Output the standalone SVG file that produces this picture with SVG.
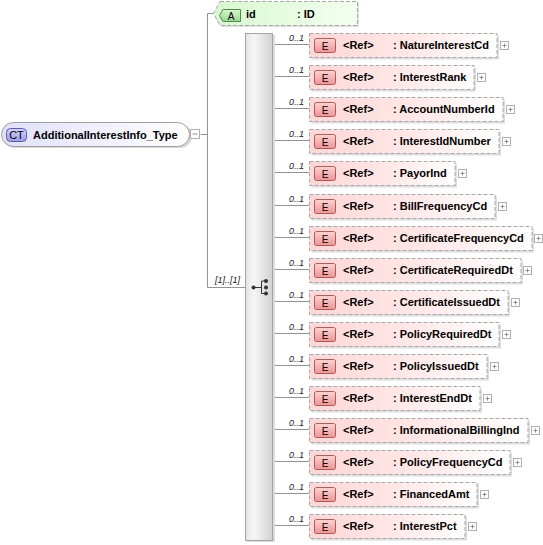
<svg xmlns="http://www.w3.org/2000/svg" width="543" height="545" viewBox="0 0 543 545">
<defs>
<linearGradient id="gEl" x1="0" y1="0" x2="1" y2="0"><stop offset="0" stop-color="#ffd6d6"/><stop offset="0.55" stop-color="#ffe8e8"/><stop offset="1" stop-color="#ffffff"/></linearGradient>
<linearGradient id="gEb" x1="0" y1="0" x2="0" y2="1"><stop offset="0" stop-color="#ffd2d2"/><stop offset="1" stop-color="#ee9494"/></linearGradient>
<linearGradient id="gAt" x1="0" y1="0" x2="1" y2="0"><stop offset="0" stop-color="#d8f8d0"/><stop offset="1" stop-color="#f4fff0"/></linearGradient>
<linearGradient id="gAb" x1="0" y1="0" x2="0" y2="1"><stop offset="0" stop-color="#d8f6d0"/><stop offset="1" stop-color="#98d890"/></linearGradient>
<linearGradient id="gCt" x1="0" y1="0" x2="1" y2="0"><stop offset="0" stop-color="#e0e0fa"/><stop offset="1" stop-color="#ffffff"/></linearGradient>
<linearGradient id="gCb" x1="0" y1="0" x2="0" y2="1"><stop offset="0" stop-color="#d4d4fa"/><stop offset="1" stop-color="#9c9cea"/></linearGradient>
<linearGradient id="gSeq" x1="0" y1="0" x2="1" y2="0"><stop offset="0" stop-color="#e4e4e4"/><stop offset="0.3" stop-color="#f6f6f6"/><stop offset="1" stop-color="#d2d2d2"/></linearGradient>
</defs>
<style>
.cn{stroke:#939393;stroke-width:1;fill:none}
.shd{fill:#dedede}
.ebox{fill:url(#gEl);stroke:#a8a8a8;stroke-dasharray:4 2}
.ebadge{fill:url(#gEb);stroke:#a85c5c}
.pb{fill:#ffffff;stroke:#b0b0b0}
.pl{stroke:#909090;fill:none}
text{font-family:"Liberation Sans",Arial,sans-serif;fill:#000}
.b{font-weight:bold;font-size:11px}
.occ{font-style:italic;font-size:9px;fill:#222}
.et{font-size:10px;text-anchor:middle}
</style>

<g id="connectors">
<path class="cn" d="M200.5 134.5 H207.5 M207.5 13.5 V287.5 M207.5 13.5 H213.5 M207.5 287.5 H245.5"/>
<path class="cn" d="M273 44.5 H309.5 M273 76.5 H309.5 M273 108.5 H309.5 M273 140.5 H309.5 M273 172.5 H309.5 M273 205.5 H309.5 M273 237.5 H309.5 M273 269.5 H309.5 M273 301.5 H309.5 M273 333.5 H309.5 M273 365.5 H309.5 M273 397.5 H309.5 M273 429.5 H309.5 M273 461.5 H309.5 M273 493.5 H309.5 M273 525.5 H309.5"/>
<text class="occ" x="215" y="283">[1]..[1]</text>
</g>

<g id="ct">
<rect x="3" y="124" width="189" height="24" rx="12" fill="#d8d8d8"/>
<rect x="1.5" y="122.5" width="188" height="24" rx="12" fill="url(#gCt)" stroke="#a0a0a0"/>
<rect x="6.5" y="128.5" width="20" height="13" rx="4" fill="url(#gCb)" stroke="#5c5ca8"/>
<text x="16.5" y="139" style="font-size:11px;text-anchor:middle">CT</text>
<text class="b" x="33" y="139">AdditionalInterestInfo_Type</text>
<rect x="190.5" y="129.5" width="9" height="9" fill="#fff" stroke="#b0b0b0"/>
<path class="pl" d="M192.5 134 h5"/>
</g>

<g id="attr-id">
<path d="M222 3 H359 V27 H222 L215 15 Z" fill="#e0e0e0"/>
<path d="M220 1.5 H357.5 V25.5 H220 L213.5 13.5 Z" fill="url(#gAt)" stroke="#a8a8a8" stroke-dasharray="4 2"/>
<path d="M223 9.5 H240.5 V21.5 H223 L219.5 15.5 Z" fill="url(#gAb)" stroke="#4f8a4f"/>
<text x="231" y="19.5" style="font-size:10px;text-anchor:middle">A</text>
<text class="b" x="246" y="18">id</text>
<text class="b" x="297" y="18">: ID</text>
</g>

<g id="sequence">
<rect x="247" y="35" width="28" height="507" fill="#dcdcdc"/>
<rect x="245.5" y="33.5" width="27" height="507" fill="url(#gSeq)" stroke="#a4a4a4"/>
<path d="M253 287.5 H261.5 M261.5 281 V293.5 M261.5 281 H266 M261.5 293.5 H266" stroke="#333" fill="none"/>
<circle cx="253.5" cy="287.5" r="2" fill="#333"/>
<circle cx="266" cy="281" r="2" fill="#333"/>
<circle cx="266" cy="287.5" r="2" fill="#333"/>
<circle cx="266" cy="293.5" r="2" fill="#333"/>
</g>

<g id="e-NatureInterestCd" transform="translate(0,44)">
<text class="occ" x="289" y="-3">0..1</text>
<rect class="shd" x="311.5" y="-8.5" width="187.5" height="24"/>
<rect class="ebox" x="309.5" y="-10.5" width="187.5" height="24"/>
<rect class="ebadge" x="314.5" y="-5.5" width="21" height="14" rx="2"/>
<text class="et" x="325" y="5.5">E</text>
<text class="b" x="343" y="5">&lt;Ref&gt;</text>
<text class="b" x="393" y="5">: NatureInterestCd</text>
<rect class="pb" x="500.5" y="-2.5" width="8" height="8"/>
<path class="pl" d="M502.5 1.5 h4 M504.5 -0.5 v4"/>
</g>
<g id="e-InterestRank" transform="translate(0,76)">
<text class="occ" x="289" y="-3">0..1</text>
<rect class="shd" x="311.5" y="-8.5" width="164.5" height="24"/>
<rect class="ebox" x="309.5" y="-10.5" width="164.5" height="24"/>
<rect class="ebadge" x="314.5" y="-5.5" width="21" height="14" rx="2"/>
<text class="et" x="325" y="5.5">E</text>
<text class="b" x="343" y="5">&lt;Ref&gt;</text>
<text class="b" x="393" y="5">: InterestRank</text>
<rect class="pb" x="477.5" y="-2.5" width="8" height="8"/>
<path class="pl" d="M479.5 1.5 h4 M481.5 -0.5 v4"/>
</g>
<g id="e-AccountNumberId" transform="translate(0,108)">
<text class="occ" x="289" y="-3">0..1</text>
<rect class="shd" x="311.5" y="-8.5" width="193.5" height="24"/>
<rect class="ebox" x="309.5" y="-10.5" width="193.5" height="24"/>
<rect class="ebadge" x="314.5" y="-5.5" width="21" height="14" rx="2"/>
<text class="et" x="325" y="5.5">E</text>
<text class="b" x="343" y="5">&lt;Ref&gt;</text>
<text class="b" x="393" y="5">: AccountNumberId</text>
<rect class="pb" x="506.5" y="-2.5" width="8" height="8"/>
<path class="pl" d="M508.5 1.5 h4 M510.5 -0.5 v4"/>
</g>
<g id="e-InterestIdNumber" transform="translate(0,140)">
<text class="occ" x="289" y="-3">0..1</text>
<rect class="shd" x="311.5" y="-8.5" width="189.5" height="24"/>
<rect class="ebox" x="309.5" y="-10.5" width="189.5" height="24"/>
<rect class="ebadge" x="314.5" y="-5.5" width="21" height="14" rx="2"/>
<text class="et" x="325" y="5.5">E</text>
<text class="b" x="343" y="5">&lt;Ref&gt;</text>
<text class="b" x="393" y="5">: InterestIdNumber</text>
<rect class="pb" x="502.5" y="-2.5" width="8" height="8"/>
<path class="pl" d="M504.5 1.5 h4 M506.5 -0.5 v4"/>
</g>
<g id="e-PayorInd" transform="translate(0,172)">
<text class="occ" x="289" y="-3">0..1</text>
<rect class="shd" x="311.5" y="-8.5" width="145.5" height="24"/>
<rect class="ebox" x="309.5" y="-10.5" width="145.5" height="24"/>
<rect class="ebadge" x="314.5" y="-5.5" width="21" height="14" rx="2"/>
<text class="et" x="325" y="5.5">E</text>
<text class="b" x="343" y="5">&lt;Ref&gt;</text>
<text class="b" x="393" y="5">: PayorInd</text>
<rect class="pb" x="458.5" y="-2.5" width="8" height="8"/>
<path class="pl" d="M460.5 1.5 h4 M462.5 -0.5 v4"/>
</g>
<g id="e-BillFrequencyCd" transform="translate(0,205)">
<text class="occ" x="289" y="-3">0..1</text>
<rect class="shd" x="311.5" y="-8.5" width="185.5" height="24"/>
<rect class="ebox" x="309.5" y="-10.5" width="185.5" height="24"/>
<rect class="ebadge" x="314.5" y="-5.5" width="21" height="14" rx="2"/>
<text class="et" x="325" y="5.5">E</text>
<text class="b" x="343" y="5">&lt;Ref&gt;</text>
<text class="b" x="393" y="5">: BillFrequencyCd</text>
<rect class="pb" x="498.5" y="-2.5" width="8" height="8"/>
<path class="pl" d="M500.5 1.5 h4 M502.5 -0.5 v4"/>
</g>
<g id="e-CertificateFrequencyCd" transform="translate(0,237)">
<text class="occ" x="289" y="-3">0..1</text>
<rect class="shd" x="311.5" y="-8.5" width="222.5" height="24"/>
<rect class="ebox" x="309.5" y="-10.5" width="222.5" height="24"/>
<rect class="ebadge" x="314.5" y="-5.5" width="21" height="14" rx="2"/>
<text class="et" x="325" y="5.5">E</text>
<text class="b" x="343" y="5">&lt;Ref&gt;</text>
<text class="b" x="393" y="5">: CertificateFrequencyCd</text>
<rect class="pb" x="534.5" y="-2.5" width="8" height="8"/>
<path class="pl" d="M536.5 1.5 h4 M538.5 -0.5 v4"/>
</g>
<g id="e-CertificateRequiredDt" transform="translate(0,269)">
<text class="occ" x="289" y="-3">0..1</text>
<rect class="shd" x="311.5" y="-8.5" width="211.5" height="24"/>
<rect class="ebox" x="309.5" y="-10.5" width="211.5" height="24"/>
<rect class="ebadge" x="314.5" y="-5.5" width="21" height="14" rx="2"/>
<text class="et" x="325" y="5.5">E</text>
<text class="b" x="343" y="5">&lt;Ref&gt;</text>
<text class="b" x="393" y="5">: CertificateRequiredDt</text>
<rect class="pb" x="523.5" y="-2.5" width="8" height="8"/>
<path class="pl" d="M525.5 1.5 h4 M527.5 -0.5 v4"/>
</g>
<g id="e-CertificateIssuedDt" transform="translate(0,301)">
<text class="occ" x="289" y="-3">0..1</text>
<rect class="shd" x="311.5" y="-8.5" width="198.5" height="24"/>
<rect class="ebox" x="309.5" y="-10.5" width="198.5" height="24"/>
<rect class="ebadge" x="314.5" y="-5.5" width="21" height="14" rx="2"/>
<text class="et" x="325" y="5.5">E</text>
<text class="b" x="343" y="5">&lt;Ref&gt;</text>
<text class="b" x="393" y="5">: CertificateIssuedDt</text>
<rect class="pb" x="511.5" y="-2.5" width="8" height="8"/>
<path class="pl" d="M513.5 1.5 h4 M515.5 -0.5 v4"/>
</g>
<g id="e-PolicyRequiredDt" transform="translate(0,333)">
<text class="occ" x="289" y="-3">0..1</text>
<rect class="shd" x="311.5" y="-8.5" width="189.5" height="24"/>
<rect class="ebox" x="309.5" y="-10.5" width="189.5" height="24"/>
<rect class="ebadge" x="314.5" y="-5.5" width="21" height="14" rx="2"/>
<text class="et" x="325" y="5.5">E</text>
<text class="b" x="343" y="5">&lt;Ref&gt;</text>
<text class="b" x="393" y="5">: PolicyRequiredDt</text>
<rect class="pb" x="502.5" y="-2.5" width="8" height="8"/>
<path class="pl" d="M504.5 1.5 h4 M506.5 -0.5 v4"/>
</g>
<g id="e-PolicyIssuedDt" transform="translate(0,365)">
<text class="occ" x="289" y="-3">0..1</text>
<rect class="shd" x="311.5" y="-8.5" width="177.5" height="24"/>
<rect class="ebox" x="309.5" y="-10.5" width="177.5" height="24"/>
<rect class="ebadge" x="314.5" y="-5.5" width="21" height="14" rx="2"/>
<text class="et" x="325" y="5.5">E</text>
<text class="b" x="343" y="5">&lt;Ref&gt;</text>
<text class="b" x="393" y="5">: PolicyIssuedDt</text>
<rect class="pb" x="490.5" y="-2.5" width="8" height="8"/>
<path class="pl" d="M492.5 1.5 h4 M494.5 -0.5 v4"/>
</g>
<g id="e-InterestEndDt" transform="translate(0,397)">
<text class="occ" x="289" y="-3">0..1</text>
<rect class="shd" x="311.5" y="-8.5" width="170.5" height="24"/>
<rect class="ebox" x="309.5" y="-10.5" width="170.5" height="24"/>
<rect class="ebadge" x="314.5" y="-5.5" width="21" height="14" rx="2"/>
<text class="et" x="325" y="5.5">E</text>
<text class="b" x="343" y="5">&lt;Ref&gt;</text>
<text class="b" x="393" y="5">: InterestEndDt</text>
<rect class="pb" x="483.5" y="-2.5" width="8" height="8"/>
<path class="pl" d="M485.5 1.5 h4 M487.5 -0.5 v4"/>
</g>
<g id="e-InformationalBillingInd" transform="translate(0,429)">
<text class="occ" x="289" y="-3">0..1</text>
<rect class="shd" x="311.5" y="-8.5" width="218.5" height="24"/>
<rect class="ebox" x="309.5" y="-10.5" width="218.5" height="24"/>
<rect class="ebadge" x="314.5" y="-5.5" width="21" height="14" rx="2"/>
<text class="et" x="325" y="5.5">E</text>
<text class="b" x="343" y="5">&lt;Ref&gt;</text>
<text class="b" x="393" y="5">: InformationalBillingInd</text>
<rect class="pb" x="531.5" y="-2.5" width="8" height="8"/>
<path class="pl" d="M533.5 1.5 h4 M535.5 -0.5 v4"/>
</g>
<g id="e-PolicyFrequencyCd" transform="translate(0,461)">
<text class="occ" x="289" y="-3">0..1</text>
<rect class="shd" x="311.5" y="-8.5" width="200.5" height="24"/>
<rect class="ebox" x="309.5" y="-10.5" width="200.5" height="24"/>
<rect class="ebadge" x="314.5" y="-5.5" width="21" height="14" rx="2"/>
<text class="et" x="325" y="5.5">E</text>
<text class="b" x="343" y="5">&lt;Ref&gt;</text>
<text class="b" x="393" y="5">: PolicyFrequencyCd</text>
<rect class="pb" x="513.5" y="-2.5" width="8" height="8"/>
<path class="pl" d="M515.5 1.5 h4 M517.5 -0.5 v4"/>
</g>
<g id="e-FinancedAmt" transform="translate(0,493)">
<text class="occ" x="289" y="-3">0..1</text>
<rect class="shd" x="311.5" y="-8.5" width="167.5" height="24"/>
<rect class="ebox" x="309.5" y="-10.5" width="167.5" height="24"/>
<rect class="ebadge" x="314.5" y="-5.5" width="21" height="14" rx="2"/>
<text class="et" x="325" y="5.5">E</text>
<text class="b" x="343" y="5">&lt;Ref&gt;</text>
<text class="b" x="393" y="5">: FinancedAmt</text>
<rect class="pb" x="480.5" y="-2.5" width="8" height="8"/>
<path class="pl" d="M482.5 1.5 h4 M484.5 -0.5 v4"/>
</g>
<g id="e-InterestPct" transform="translate(0,525)">
<text class="occ" x="289" y="-3">0..1</text>
<rect class="shd" x="311.5" y="-8.5" width="155.5" height="24"/>
<rect class="ebox" x="309.5" y="-10.5" width="155.5" height="24"/>
<rect class="ebadge" x="314.5" y="-5.5" width="21" height="14" rx="2"/>
<text class="et" x="325" y="5.5">E</text>
<text class="b" x="343" y="5">&lt;Ref&gt;</text>
<text class="b" x="393" y="5">: InterestPct</text>
<rect class="pb" x="468.5" y="-2.5" width="8" height="8"/>
<path class="pl" d="M470.5 1.5 h4 M472.5 -0.5 v4"/>
</g>
</svg>
